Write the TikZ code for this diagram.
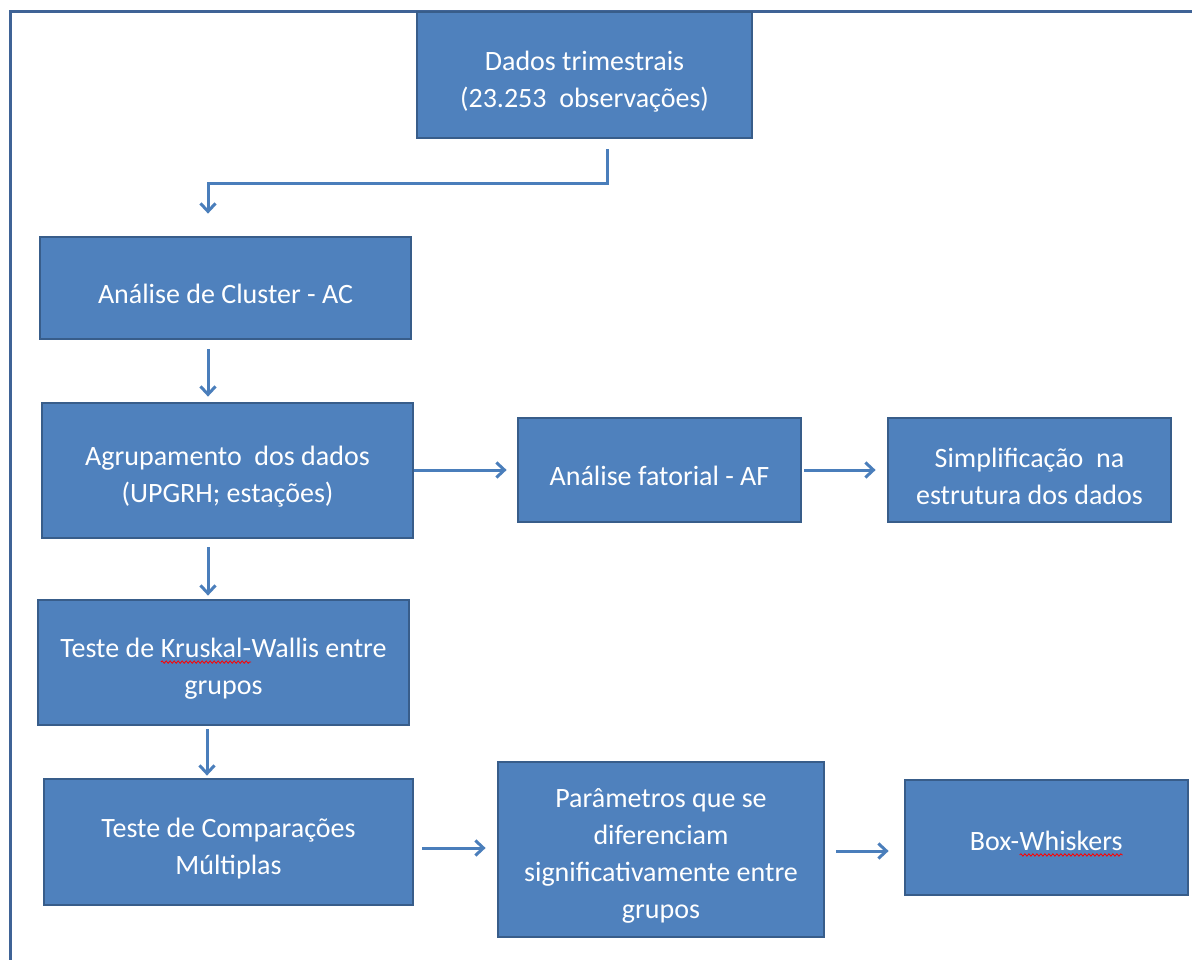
\documentclass[tikz,border=0pt]{standalone}
\usepackage{fontspec}
\setmainfont{Carlito}
\usetikzlibrary{arrows.meta,calc,decorations.pathmorphing}
\definecolor{boxfill}{HTML}{4F81BD}
\definecolor{boxline}{HTML}{385D8A}
\definecolor{arrcol}{HTML}{4A7EBB}
\definecolor{framecol}{HTML}{3F6396}
\newcommand\tp{\rule{0pt}{32pt}}
\newcommand\redwave[1]{\tikz[baseline=0pt,x=1pt,y=1pt]{\node[anchor=base west,inner sep=0pt,outer sep=0pt,minimum width=0pt,minimum height=0pt,draw=none,fill=none,text=white] (wvtmp) at (0,0) {#1};
  \draw[red, line width=0.8pt, decorate, decoration={snake, amplitude=1.2pt, segment length=4pt}] ([yshift=-4.5pt]wvtmp.base west) -- ([yshift=-4.5pt]wvtmp.base east);}}
\begin{document}
\begin{tikzpicture}[x=1pt,y=-1pt,
  box/.style={draw=boxline, line width=2.8pt, fill=boxfill, text=white, align=center,
    inner sep=0pt, font=\fontsize{28}{37}\selectfont},
  arr/.style={draw=arrcol, line width=3pt, -{Straight Barb[length=8pt,width=15pt]}}]
\useasboundingbox (0,0) rectangle (1192,960);
\fill[white] (0,0) rectangle (1192,960);
\draw[framecol, line width=3pt] (10,960) -- (10,12) -- (1192,12);

\node[box, minimum width=335pt, minimum height=126pt] (dados) at (584.5,75)
  {\tp Dados trimestrais\\(23.253\ \ observações)};
\node[box, minimum width=371pt, minimum height=102pt] (cluster) at (225.5,288)
  {\tp Análise de Cluster - AC};
\node[box, minimum width=371pt, minimum height=135pt] (agrup) at (227.5,470.5)
  {\tp Agrupamento\ \ dos dados\\(UPGRH; estações)};
\node[box, minimum width=283pt, minimum height=104pt] (fator) at (659.5,470)
  {\tp Análise fatorial - AF};
\node[box, minimum width=283pt, minimum height=104pt] (simpl) at (1029.5,470)
  {\tp Simplificação\ \ na\\estrutura dos dados};
\node[box, minimum width=371pt, minimum height=125pt] (krusk) at (223.5,662.5)
  {\tp Teste de \redwave{Kruskal-}Wallis entre\\grupos};
\node[box, minimum width=369pt, minimum height=126pt] (comp) at (228.5,842)
  {\tp Teste de Comparações\\Múltiplas};
\node[box, minimum width=326pt, minimum height=175pt] (param) at (661,849.5)
  {\tp Parâmetros que se\\diferenciam\\significativamente entre\\grupos};
\node[box, minimum width=283pt, minimum height=115pt] (boxw) at (1046.5,837.5)
  {\tp Box-\redwave{Whiskers}};

\draw[arr, shorten <=10pt, shorten >=22pt] ([xshift=22.5pt]dados.south) -- ++(0,44) -| ([xshift=-17.5pt]cluster.north);
\draw[arr, shorten <=9pt, shorten >=5pt] ([xshift=-17.5pt]cluster.south) -- ([xshift=-17.5pt]cluster.south |- agrup.north);
\draw[arr, shorten <=8pt, shorten >=3pt] ([xshift=-19.5pt]agrup.south) -- ([xshift=-19.5pt]agrup.south |- krusk.north);
\draw[arr, shorten <=3pt, shorten >=2pt] ([xshift=-16.5pt]krusk.south) -- ([xshift=-16.5pt]krusk.south |- comp.north);
\draw[arr, shorten <=0pt, shorten >=10pt] (agrup.east |- fator.west) -- (fator.west);
\draw[arr, shorten <=2pt, shorten >=11pt] (fator.east) -- (simpl.west);
\draw[arr, shorten <=8pt, shorten >=11pt] ([yshift=-6pt]comp.east) -- ([yshift=-6pt]comp.east -| param.west);
\draw[arr, shorten <=11pt, shorten >=15pt] ([yshift=-1.5pt]param.east) -- ([yshift=-1.5pt]param.east -| boxw.west);
\end{tikzpicture}
\end{document}
